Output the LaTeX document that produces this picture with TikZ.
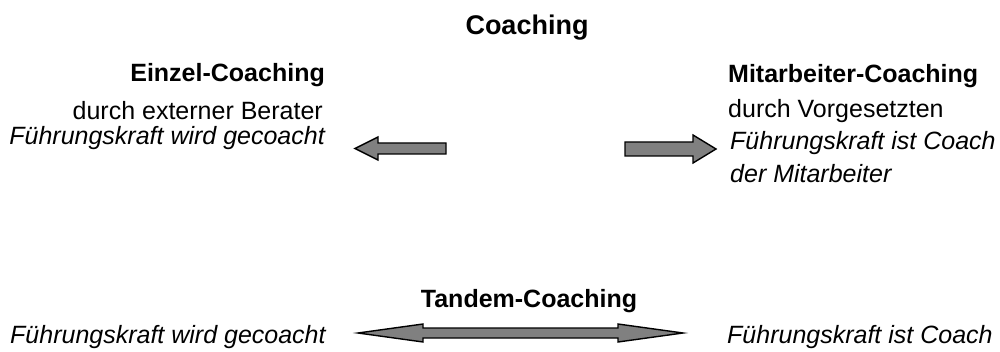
\documentclass[tikz,border=0pt]{standalone}
\usepackage{fontspec}
\setmainfont{Liberation Sans}
\begin{document}
\begin{tikzpicture}[x=1pt,y=-1pt,
  txt/.style={inner sep=0pt,font=\fontsize{25}{30}\selectfont},
  head/.style={txt,font=\fontsize{25}{30}\selectfont\bfseries},
  role/.style={txt,font=\fontsize{25}{30}\selectfont\itshape},
  blockarrow/.style={fill=black!50,draw=black,line width=1.4pt,line join=miter}]
\useasboundingbox (0,0) rectangle (1000,352);

% title
\node[txt,font=\fontsize{27}{32}\selectfont\bfseries,anchor=base] (title) at (527,35) {Coaching};

% left block: individual coaching
\node[head,anchor=base east] (einzel) at (325,82) {Einzel-Coaching};
\node[txt,anchor=base east] (extern) at (323,120) {durch externer Berater};
\node[role,anchor=base east] (wirdL) at (325,145) {Führungskraft wird gecoacht};

% right block: coaching of staff
\node[head,anchor=base west] (mitarb) at (728,83) {Mitarbeiter-Coaching};
\node[txt,anchor=base west] (vorges) at (728,118) {durch Vorgesetzten};
\node[role,anchor=base west] (istR) at (730,150) {Führungskraft ist Coach};
\node[role,anchor=base west] (derM) at (730,183) {der Mitarbeiter};

% tandem coaching
\node[head,anchor=base] (tandem) at (529,307) {Tandem-Coaching};
\node[role,anchor=base west] (wirdB) at (10,343) {Führungskraft wird gecoacht};
\node[role,anchor=base west] (istB) at (727,343) {Führungskraft ist Coach};

% block arrows
\draw[blockarrow] (446,143) -- (378,143) -- (378,137) -- (355,148.5) -- (378,160) -- (378,154) -- (446,154) -- cycle;
\draw[blockarrow] (625,142) -- (693,142) -- (693,135) -- (716,149) -- (693,163) -- (693,156) -- (625,156) -- cycle;
\draw[blockarrow] (358,333) -- (423,324) -- (423,328) -- (618,328) -- (618,324) -- (683,333)
  -- (618,342) -- (618,338) -- (423,338) -- (423,342) -- cycle;
\end{tikzpicture}
\end{document}
